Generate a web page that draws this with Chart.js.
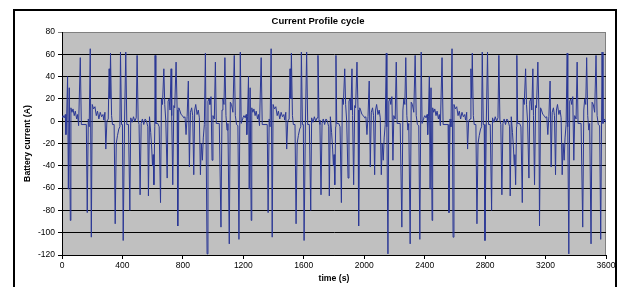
<!DOCTYPE html>
<html lang="en">
<head>
    <meta charset="UTF-8">
    <title>Current Profile cycle</title>
    <script src="https://cdn.jsdelivr.net/npm/chart.js"></script>
    <style>
        body { margin: 0; background: #fff; }
    </style>
</head>
<body>
    <canvas id="profile-chart" width="619" height="287"></canvas>

    <script>
        const cycleTime = [0, 7, 15, 22, 26, 31, 37, 42, 48, 55, 59, 66, 73, 81, 88, 97, 103, 110, 121, 128,
            161, 167, 174, 180, 187, 194, 200, 209, 218, 227, 235, 244, 253, 262, 271, 277, 284, 290, 297, 306,
            312, 317, 321, 328, 334, 345, 352, 359, 367, 376, 383, 387, 394, 400, 405, 414, 422, 429, 440, 449,
            455, 464, 473, 482, 491, 497, 504, 510, 517, 524, 532, 541, 550, 559, 568, 572, 579, 587, 594, 599,
            603, 608, 614, 616, 621, 634, 643, 652, 658, 665, 674, 680, 687, 696, 702, 709, 715, 722, 726, 733,
            740, 746, 755, 762, 766, 773, 779, 788, 797, 806, 814, 821, 828, 836, 843, 850, 858, 865, 872, 878,
            885, 894, 902, 909, 916, 922, 929, 935, 942, 949, 953, 960, 966, 973, 979, 986, 993, 999, 1008, 1015,
            1021, 1041, 1052, 1059, 1065, 1072, 1078, 1085, 1092, 1098, 1107, 1114, 1122, 1131, 1140, 1147, 1155, 1164, 1171, 1180,
            1186, 1195];
        const cycleCurrent = [3, 5, 3, 6, -12, 4, 40, -61, 30, -89, 12, 8, 11, 5, 9, 2, 6, -4, 57, -3,
            -3, -82, 2, -5, 65, -104, 15, 11, 13, 5, 9, 2, 8, 4, 6, 1, 8, -25, 0, 2,
            47, 20, 61, 5, -3, -3, -92, -20, -13, -7, -5, 62, -3, -3, -107, 0, 62, -3, -3, -80,
            3, -1, 4, 0, 3, 59, 1, -3, -66, -2, 2, -3, 2, 0, -5, -67, 4, -10, -25, -40,
            -30, -57, -5, 59, -2, -2, -5, -73, 20, 15, 47, 15, 0, -51, 18, 20, 10, 47, 5, -57,
            14, 12, 53, 10, -94, 12, 10, 6, 5, 3, 4, -12, 4, 36, -41, 8, 12, 5, -48, 10,
            15, 6, 10, 3, -48, -20, -35, -15, -3, 61, -5, -119, 18, 20, 15, 22, -35, 5, 2, 53,
            -2, -2, -95, 10, 20, 15, 57, 5, -8, -2, -110, 17, 15, 8, 59, 5, -3, -4, -106, 62,
            -2, 2];
        // the cycle is driven three times back to back
        const cycleStart = [0, 1197, 2394];
        const endTime = [3600];
        const endCurrent = [-1];

        const xMin = 0, xMax = 3600, xStep = 400;
        const yMin = -120, yMax = 80, yStep = 20;

        const points = [];
        cycleStart.forEach(start => {
            cycleTime.forEach((t, i) => points.push({ x: start + t, y: cycleCurrent[i] }));
        });
        endTime.forEach((t, i) => points.push({ x: t, y: endCurrent[i] }));

        const FONT = 'Arial, "Liberation Sans", sans-serif';

        // white page, gray plot area, black frame and the title
        const excelLook = {
            id: 'excelLook',
            beforeDraw(chart) {
                const { ctx, chartArea: a } = chart;
                ctx.save();
                ctx.fillStyle = '#fff';
                ctx.fillRect(0, 0, chart.width, chart.height);
                ctx.fillStyle = '#c0c0c0';
                ctx.fillRect(a.left, a.top, a.right - a.left, a.bottom - a.top);
                ctx.strokeStyle = '#808080';
                ctx.lineWidth = 1;
                ctx.strokeRect(a.left + 0.5, a.top + 0.5, a.right - a.left - 1, a.bottom - a.top);
                ctx.strokeStyle = '#000';
                ctx.lineWidth = 2;
                ctx.strokeRect(14, 10, 602, 300);
                ctx.fillStyle = '#000';
                ctx.font = 'bold 9.5px ' + FONT;
                ctx.textAlign = 'center';
                ctx.textBaseline = 'middle';
                ctx.fillText('Current Profile cycle', 318, 21);
                ctx.restore();
            }
        };

        new Chart(document.getElementById('profile-chart'), {
            type: 'line',
            data: {
                datasets: [{
                    label: 'Battery current',
                    data: points,
                    borderColor: '#2b3896',
                    borderWidth: 1,
                    pointRadius: 0,
                    tension: 0,
                    fill: false
                }]
            },
            options: {
                responsive: false,
                animation: false,
                devicePixelRatio: 1,
                layout: { padding: { top: 32, right: 13, left: 0, bottom: 0 } },
                plugins: {
                    legend: { display: false },
                    tooltip: { enabled: false }
                },
                scales: {
                    x: {
                        type: 'linear',
                        min: xMin,
                        max: xMax,
                        afterFit: s => { s.height = 32; },
                        ticks: {
                            stepSize: xStep,
                            autoSkip: false,
                            maxRotation: 0,
                            padding: 2,
                            color: '#000',
                            font: { family: FONT, size: 8.5 },
                            callback: v => String(v)
                        },
                        grid: { drawOnChartArea: false, drawTicks: true, tickLength: 4, color: '#000' },
                        border: { display: true, color: '#000', width: 1 },
                        title: {
                            display: true,
                            text: 'time (s)',
                            color: '#000',
                            padding: { top: 0, bottom: 3 },
                            font: { family: FONT, size: 8.7, weight: 'bold' }
                        }
                    },
                    y: {
                        min: yMin,
                        max: yMax,
                        afterFit: s => { s.width = 62; },
                        ticks: {
                            stepSize: yStep,
                            padding: 3,
                            color: '#000',
                            font: { family: FONT, size: 8.5 },
                            callback: v => String(v)
                        },
                        grid: {
                            color: c => (c.tick && c.tick.value === yMax ? '#808080' : '#000'),
                            lineWidth: 1,
                            drawTicks: true,
                            tickLength: 4
                        },
                        border: { display: true, color: '#000', width: 1 },
                        title: {
                            display: true,
                            text: 'Battery current (A)',
                            color: '#000',
                            padding: { top: 22, bottom: 0 },
                            font: { family: FONT, size: 8.7, weight: 'bold' }
                        }
                    }
                }
            },
            plugins: [excelLook]
        });
    </script>
</body>
</html>
